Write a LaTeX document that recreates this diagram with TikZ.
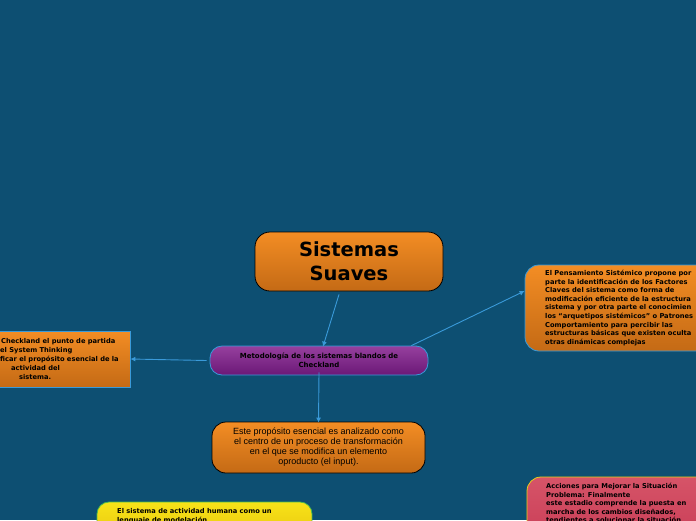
\documentclass[tikz,border=0pt]{standalone}
\usepackage{fontspec}
\setmainfont{DejaVu Sans}
\newfontfamily\arialfont{Liberation Sans}
\usetikzlibrary{arrows.meta}
\definecolor{bg}{RGB}{13,79,114}
\definecolor{linkblue}{RGB}{58,154,217}
\definecolor{orTop}{RGB}{243,141,36}
\definecolor{orBot}{RGB}{196,106,21}
\definecolor{puTop}{RGB}{150,64,158}
\definecolor{puBot}{RGB}{107,24,119}
\definecolor{yeTop}{RGB}{247,227,24}
\definecolor{yeBot}{RGB}{232,196,14}
\definecolor{yeBorder}{RGB}{76,187,76}
\definecolor{piTop}{RGB}{214,84,104}
\definecolor{piBot}{RGB}{200,59,85}
\definecolor{piBorder}{RGB}{232,210,26}
\tikzset{
  orangebox/.style={top color=orTop, bottom color=orBot, line width=0.8pt},
  conn/.style={draw=linkblue, line width=0.9pt, -{Latex[length=5pt,width=5pt]}},
  smalltext/.style={font=\bfseries\fontsize{6.7}{8.6}\selectfont, text=black, inner sep=0pt, anchor=base west},
}
\begin{document}
\begin{tikzpicture}[x=1pt,y=-1pt]
\fill[bg] (0,0) rectangle (696,520);
\useasboundingbox (0,0) rectangle (696,520);
\clip (0,0) rectangle (696,520);

% central
\node[orangebox, draw=black, rounded corners=15pt, minimum width=188pt, minimum height=59pt, align=center,
  font=\bfseries\fontsize{19.5}{24}\selectfont] (central) at (349,261.5) {Sistemas\\ Suaves};

% purple
\node[draw=linkblue, line width=0.8pt, top color=puTop, bottom color=puBot, rounded corners=12pt,
  minimum width=218pt, minimum height=29pt, align=center, font=\bfseries\fontsize{7}{9}\selectfont] (metodo) at (319,360.5)
  {Metodología de los sistemas blandos de\\ Checkland};

% left box
\node[orangebox, draw=linkblue, minimum width=140pt, minimum height=56pt, inner sep=0pt] (left) at (60,359) {};
\node[smalltext] (l1) at (1,343.5) {Checkland el punto de partida};
\node[smalltext] (l2) at (0,352.5) {el System Thinking};
\node[smalltext] (l3) at (0,361.5) {ficar el propósito esencial de la};
\node[smalltext] (l4) at (11,370.5) {actividad del};
\node[smalltext] (l5) at (19,379.5) {sistema.};

% right box
\node[orangebox, draw=linkblue, rounded corners=14pt, minimum width=190pt, minimum height=86pt, inner sep=0pt] (right) at (620,308) {};
\node[smalltext] (r1) at (545,275.5) {El Pensamiento Sistémico propone por};
\node[smalltext] (r2) at (545,284.1) {parte la identificación de los Factores};
\node[smalltext] (r3) at (545,292.7) {Claves del sistema como forma de};
\node[smalltext] (r4) at (545,301.3) {modificación eficiente de la estructura};
\node[smalltext] (r5) at (545,309.9) {sistema y por otra parte el conocimien};
\node[smalltext] (r6) at (545,318.5) {los “arquetipos sistémicos” o Patrones};
\node[smalltext] (r7) at (545,327.1) {Comportamiento para percibir las};
\node[smalltext] (r8) at (545,335.7) {estructuras básicas que existen oculta};
\node[smalltext] (r9) at (545,344.3) {otras dinámicas complejas};

% bottom orange
\node[orangebox, draw=black, rounded corners=14pt, minimum width=213pt, minimum height=51pt, align=center,
  font=\arialfont\fontsize{9}{10}\selectfont] (esencial) at (318.5,447.5)
  {Este propósito esencial es analizado como\\ el centro de un proceso de transformación\\ en el que se modifica un elemento\\ oproducto (el input).};

% yellow
\node[draw=yeBorder, line width=0.8pt, top color=yeTop, bottom color=yeBot, rounded corners=12pt,
  minimum width=215pt, minimum height=40pt, inner sep=0pt] (yellow) at (204.5,522) {};
\node[smalltext] (y1) at (117,513.5) {El sistema de actividad humana como un};
\node[smalltext] (y2) at (117,522.6) {lenguaje de modelación};

% pink
\node[draw=piBorder, line width=0.8pt, top color=piTop, bottom color=piBot, rounded corners=14pt,
  minimum width=190pt, minimum height=70pt, inner sep=0pt] (pink) at (622,512) {};
\node[smalltext] (p1) at (546,488.5) {Acciones para Mejorar la Situación};
\node[smalltext] (p2) at (546,497.1) {Problema: Finalmente};
\node[smalltext] (p3) at (546,505.7) {este estadio comprende la puesta en};
\node[smalltext] (p4) at (546,514.3) {marcha de los cambios diseñados,};
\node[smalltext] (p5) at (546,522.9) {tendientes a solucionar la situación};

% connectors
\draw[conn] ([xshift=-10pt,yshift=-3pt]central.south) -- ([xshift=4pt,yshift=-1pt]metodo.north);
\draw[conn] ([xshift=-17pt,yshift=0pt]metodo.north east) -- ([yshift=17pt]right.west);
\draw[conn] ([xshift=-3pt]metodo.west) -- (left.east);
\draw[conn] ([yshift=3pt]metodo.south) -- ([yshift=-1pt]esencial.north);
\end{tikzpicture}
\end{document}
